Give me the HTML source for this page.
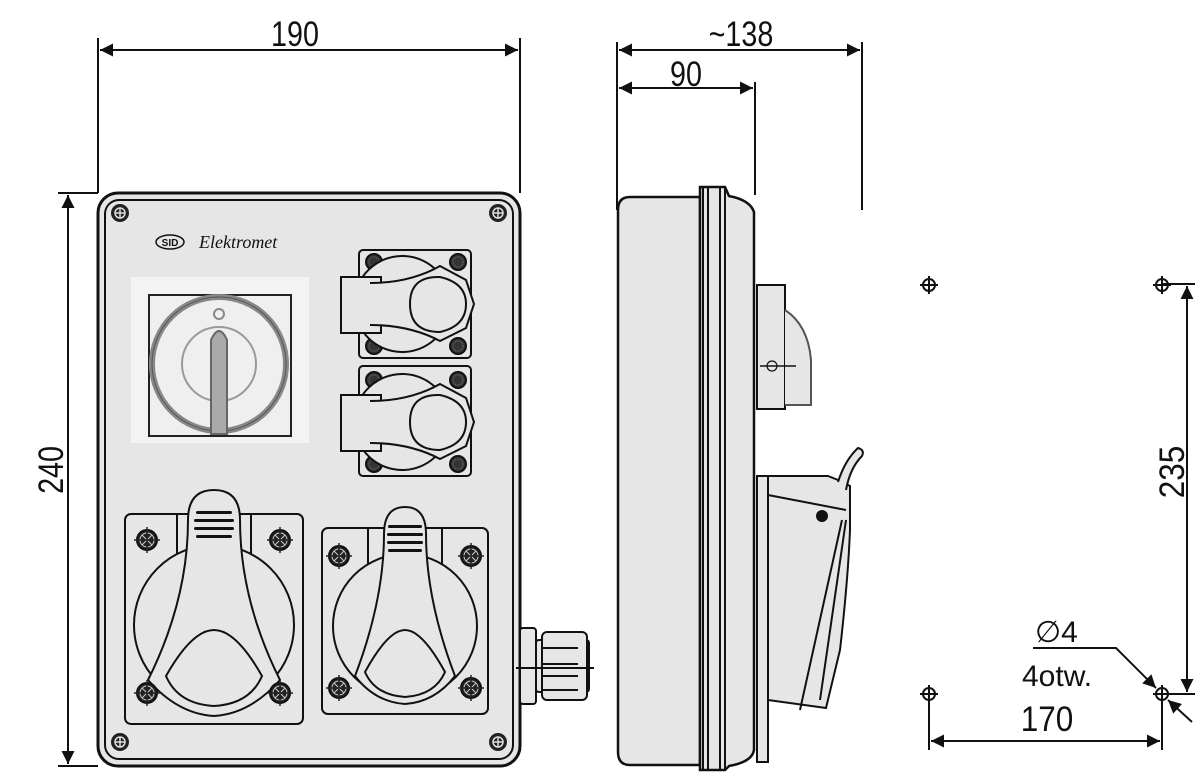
<!DOCTYPE html>
<html><head><meta charset="utf-8"><style>
html,body{margin:0;padding:0;background:#fff;}
svg{display:block;}
text{font-family:"Liberation Sans",sans-serif;fill:#111;}
</style></head><body>
<svg width="1203" height="778" viewBox="0 0 1203 778" xmlns="http://www.w3.org/2000/svg">
<defs>
<marker id="a" viewBox="0 0 10 10" refX="10" refY="5" markerWidth="22" markerHeight="13" markerUnits="userSpaceOnUse" orient="auto-start-reverse"><path d="M0,0L10,5L0,10z" fill="#111"/></marker>
<g id="scr"><circle r="9" fill="#222"/><circle r="5" fill="none" stroke="#ddd" stroke-width="1.5"/><path d="M-5,0H5M0,-5V5" stroke="#ddd" stroke-width="1.5"/></g>
<g id="rs"><circle r="10" fill="#222"/><circle r="7" fill="none" stroke="#ccc" stroke-width="1"/><path d="M-7,0H7M0,-7V7M-5,-5L5,5M-5,5L5,-5" stroke="#ccc" stroke-width="1"/><path d="M-13,0H13M0,-13V13" stroke="#222" stroke-width="1.5"/></g>
<g id="ss"><circle r="8" fill="#333"/><circle r="5" fill="none" stroke="#777" stroke-width="1" stroke-dasharray="1 1"/></g>
<g id="hole"><circle r="6" fill="none" stroke="#111" stroke-width="2"/><path d="M-9,0H9M0,-9V9" stroke="#111" stroke-width="2"/></g>
</defs>

<!-- dimensions front -->
<g stroke="#111" stroke-width="2" fill="none">
<line x1="98" y1="38" x2="98" y2="193"/><line x1="520" y1="38" x2="520" y2="193"/>
<line x1="100" y1="50" x2="518" y2="50" marker-start="url(#a)" marker-end="url(#a)"/>
<line x1="58" y1="193" x2="98" y2="193"/><line x1="58" y1="766" x2="98" y2="766"/>
<line x1="68" y1="195" x2="68" y2="764" marker-start="url(#a)" marker-end="url(#a)"/>
<line x1="617" y1="42" x2="617" y2="210"/><line x1="755" y1="82" x2="755" y2="195"/><line x1="862" y1="42" x2="862" y2="210"/>
<line x1="619" y1="50" x2="860" y2="50" marker-start="url(#a)" marker-end="url(#a)"/>
<line x1="619" y1="88" x2="753" y2="88" marker-start="url(#a)" marker-end="url(#a)"/>
</g>
<text x="295" y="46" font-size="35" text-anchor="middle" transform="translate(295 0) scale(0.82 1) translate(-295 0)">190</text>
<text x="741" y="46" font-size="35" text-anchor="middle" transform="translate(741 0) scale(0.82 1) translate(-741 0)">~138</text>
<text x="686" y="86" font-size="35" text-anchor="middle" transform="translate(686 0) scale(0.82 1) translate(-686 0)">90</text>
<text font-size="35" text-anchor="middle" transform="translate(63 470) rotate(-90) scale(0.82 1)">240</text>

<!-- front box -->
<rect x="98" y="193" width="422" height="573" rx="20" fill="#e6e6e6" stroke="#111" stroke-width="3"/>
<rect x="105" y="200" width="408" height="559" rx="14" fill="none" stroke="#111" stroke-width="2"/>
<use href="#scr" x="120" y="213"/><use href="#scr" x="498" y="213"/><use href="#scr" x="120" y="742"/><use href="#scr" x="498" y="742"/>
<ellipse cx="170" cy="242" rx="14" ry="7" fill="none" stroke="#111" stroke-width="1.5"/>
<text x="170" y="246" font-size="10" font-weight="bold" text-anchor="middle">SID</text>
<text x="199" y="248" font-size="18" font-style="italic" style="font-family:'Liberation Serif',serif">Elektromet</text>

<!-- switch -->
<rect x="131" y="277" width="178" height="166" fill="#f3f3f3"/>
<rect x="149" y="295" width="142" height="141" fill="#efefef" stroke="#222" stroke-width="2"/>
<circle cx="219" cy="364" r="67" fill="none" stroke="#888" stroke-width="6"/>
<circle cx="219" cy="364" r="67" fill="none" stroke="#555" stroke-width="1"/>
<circle cx="219" cy="364" r="37" fill="none" stroke="#999" stroke-width="2"/>
<circle cx="219" cy="314" r="5" fill="none" stroke="#888" stroke-width="2"/>
<path d="M211,434V340Q219,322 227,340V434z" fill="#aaa" stroke="#666" stroke-width="2"/>

<!-- small sockets -->
<g stroke="#111" stroke-width="2" fill="#e6e6e6">
<g>
<rect x="359" y="250" width="112" height="108" rx="4"/>
<use href="#ss" x="374" y="262"/><use href="#ss" x="458" y="262"/><use href="#ss" x="374" y="346"/><use href="#ss" x="458" y="346"/>
<path d="M438,336A48,48 0 1 1 438,272"/>
<rect x="341" y="277" width="40" height="56" fill="#e6e6e6"/>
<path d="M370,283Q410,283 440,266L466,280L474,304L466,328L440,341Q410,325 370,325" fill="#e6e6e6"/>
<path d="M410,304Q410,276 440,277Q466,283 466,304Q466,326 440,332Q410,332 410,304z" fill="none"/>
</g>
<g transform="translate(0 118)">
<rect x="359" y="248" width="112" height="110" rx="4"/>
<use href="#ss" x="374" y="262"/><use href="#ss" x="458" y="262"/><use href="#ss" x="374" y="346"/><use href="#ss" x="458" y="346"/>
<path d="M438,336A48,48 0 1 1 438,272"/>
<rect x="341" y="277" width="40" height="56" fill="#e6e6e6"/>
<path d="M370,283Q410,283 440,266L466,280L474,304L466,328L440,341Q410,325 370,325" fill="#e6e6e6"/>
<path d="M410,304Q410,276 440,277Q466,283 466,304Q466,326 440,332Q410,332 410,304z" fill="none"/>
</g>
</g>

<!-- big sockets -->
<g stroke="#111" stroke-width="2" fill="#e6e6e6">
<rect x="125" y="514" width="178" height="210" rx="6"/>
<path d="M177,514V562M251,514V562"/>
<circle cx="214" cy="625" r="80"/>
<path d="M188,520Q188,490 214,490Q240,490 240,520Q240,600 280,680Q250,714 214,716Q178,714 148,680Q188,600 188,520z"/>
<path d="M214,630Q236,630 262,676Q250,704 214,706Q178,704 166,676Q192,630 214,630z" fill="none"/>
<use href="#rs" x="147" y="540"/><use href="#rs" x="280" y="540"/><use href="#rs" x="147" y="693"/><use href="#rs" x="280" y="693"/>
<rect x="322" y="528" width="166" height="186" rx="6"/>
<path d="M368,528V570M442,528V570"/>
<circle cx="405" cy="626" r="72"/>
<path d="M384,534Q384,507 405,507Q426,507 426,534Q426,600 455,676Q435,702 405,704Q375,702 355,676Q384,600 384,534z"/>
<path d="M405,630Q422,630 445,672Q435,695 405,697Q375,695 365,672Q388,630 405,630z" fill="none"/>
<use href="#rs" x="339" y="556"/><use href="#rs" x="471" y="556"/><use href="#rs" x="339" y="688"/><use href="#rs" x="471" y="688"/>
</g>
<g fill="#111">
<rect x="196" y="511" width="36" height="3" rx="1.5"/><rect x="194" y="519" width="40" height="3" rx="1.5"/><rect x="194" y="527" width="40" height="3" rx="1.5"/><rect x="196" y="535" width="36" height="3" rx="1.5"/>
<rect x="388" y="525" width="34" height="3" rx="1.5"/><rect x="387" y="533" width="36" height="3" rx="1.5"/><rect x="387" y="541" width="36" height="3" rx="1.5"/><rect x="388" y="549" width="34" height="3" rx="1.5"/>
</g>
<!-- gland -->
<g stroke="#111" stroke-width="2" fill="#e6e6e6">
<rect x="520" y="628" width="16" height="76" rx="3"/>
<rect x="536" y="640" width="53" height="52" rx="3"/>
<rect x="542" y="632" width="45" height="68" rx="5"/>
<path d="M542,648H578M542,664H578M542,676H578M542,690H578"/>
<line x1="516" y1="668" x2="594" y2="668"/>
</g>

<!-- side view -->
<g stroke="#111" stroke-width="2.5" fill="#e6e6e6">
<path d="M630,197H700V765H630Q618,765 618,752V210Q618,197 630,197z"/>
<path d="M700,187H725L729,196Q750,200 754,212V750Q752,762 729,766L725,770H700z"/>
<path d="M703,188V769M708,188V769M720,188V769M725,188V769" fill="none" stroke-width="2"/>
<rect x="757" y="285" width="28" height="124" stroke-width="2"/>
<path d="M785,310Q808,325 811,360V405H785" stroke="#555" stroke-width="2"/>
<path d="M757,476H768V762H757z" stroke-width="2"/>
<path d="M768,476H828L838,480L850,486V530Q848,580 840,650L826,708L768,700z" stroke-width="2"/>
<path d="M768,495L846,510M800,710L842,520M820,700L846,520" fill="none" stroke-width="2"/>
<path d="M838,482Q845,460 858,448Q865,450 862,456Q850,468 846,490" stroke-width="2"/>
</g>
<line x1="760" y1="366" x2="796" y2="366" stroke="#111" stroke-width="1.5"/>
<circle cx="772" cy="366" r="5" fill="none" stroke="#111" stroke-width="1.2"/>
<circle cx="822" cy="516" r="6" fill="#111"/>

<!-- hole pattern -->
<use href="#hole" x="929" y="285"/><use href="#hole" x="1162" y="285"/><use href="#hole" x="929" y="694"/><use href="#hole" x="1162" y="694"/>
<g stroke="#111" stroke-width="2" fill="none">
<line x1="1162" y1="284" x2="1195" y2="284"/><line x1="1162" y1="694" x2="1195" y2="694"/>
<line x1="1187" y1="286" x2="1187" y2="692" marker-start="url(#a)" marker-end="url(#a)"/>
<line x1="929" y1="694" x2="929" y2="750"/><line x1="1162" y1="694" x2="1162" y2="750"/>
<line x1="931" y1="741" x2="1160" y2="741" marker-start="url(#a)" marker-end="url(#a)"/>
<path d="M1033,648H1116L1156,688" marker-end="url(#a)"/>
<line x1="1192" y1="722" x2="1168" y2="700" marker-end="url(#a)"/>
</g>
<text x="1047" y="731" font-size="35" text-anchor="middle" transform="translate(1047 0) scale(0.9 1) translate(-1047 0)">170</text>
<text font-size="35" text-anchor="middle" transform="translate(1184 472) rotate(-90) scale(0.9 1)">235</text>
<text x="1035" y="642" font-size="30">∅4</text>
<text x="1022" y="686" font-size="30">4otw.</text>
</svg>
</body></html>
